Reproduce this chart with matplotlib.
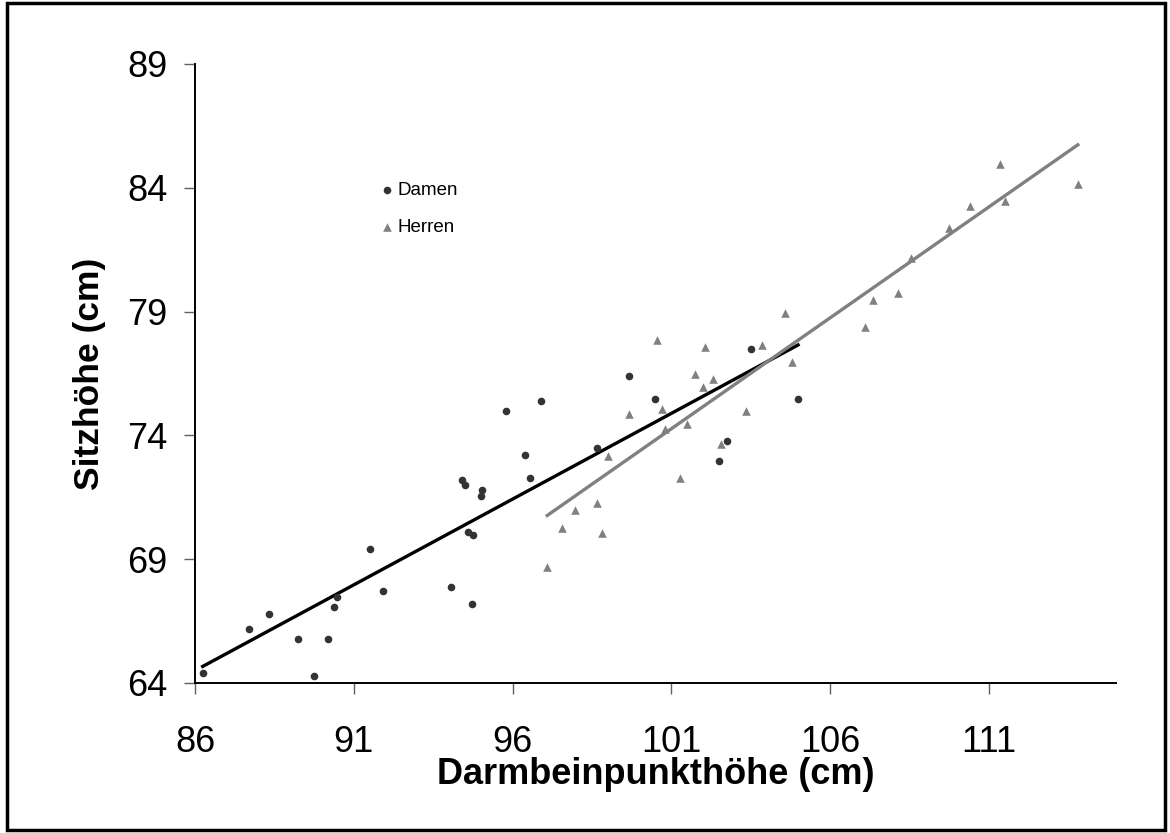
import numpy as np
import matplotlib.pyplot as plt
from matplotlib.patches import Rectangle

plt.rcParams['font.family'] = ['Liberation Sans', 'DejaVu Sans']

# Damen (women): Darmbeinpunkthöhe vs Sitzhöhe
damen_x = [86.24, 89.76, 87.70, 88.34, 89.25, 90.20, 90.39, 90.46, 91.50, 91.91,
           94.05, 94.73, 94.60, 94.74, 94.41, 94.50, 95.05, 95.01, 95.80, 96.90,
           96.40, 96.55, 98.66, 99.65, 100.50, 103.51, 104.99, 102.75, 102.51]
damen_y = [64.40, 64.30, 66.19, 66.79, 65.79, 65.79, 67.08, 67.49, 69.40, 67.70,
           67.89, 67.19, 70.08, 69.99, 72.19, 71.98, 71.78, 71.57, 74.99, 75.39,
           73.20, 72.28, 73.49, 76.39, 75.48, 77.48, 75.48, 73.79, 72.98]

# Herren (men)
herren_x = [97.09, 97.56, 97.95, 98.80, 98.66, 99.00, 99.67, 100.56, 100.71, 100.81,
            101.26, 101.50, 101.75, 102.06, 102.01, 102.31, 102.55, 103.35, 103.86, 104.57,
            104.81, 107.11, 107.36, 108.15, 108.56, 109.75, 110.40, 111.35, 111.50, 113.80]
herren_y = [68.67, 70.27, 70.99, 70.07, 71.28, 73.18, 74.86, 77.87, 75.07, 74.26,
            72.27, 74.47, 76.47, 77.56, 75.95, 76.26, 73.67, 74.97, 77.66, 78.96,
            76.96, 78.37, 79.45, 79.75, 81.15, 82.36, 83.25, 84.96, 83.47, 84.17]

xticks = [86, 91, 96, 101, 106, 111]
yticks = [64, 69, 74, 79, 84, 89]

fig = plt.figure(figsize=(11.7, 8.33), dpi=100)
ax = fig.add_axes([0.1667, 0.1801, 0.7871, 0.7431])

ax.scatter(damen_x, damen_y, s=30, marker='o', color='#333333', lw=0, label='Damen', zorder=3)
ax.scatter(herren_x, herren_y, s=38, marker='^', color='#808080', lw=0, label='Herren', zorder=3)

# linear trend lines over each data range
for xs, ys, c in [(damen_x, damen_y, 'black'), (herren_x, herren_y, '#808080')]:
    k, d = np.polyfit(xs, ys, 1)
    xr = np.array([min(xs), max(xs)])
    ax.plot(xr, k * xr + d, color=c, lw=2.4, zorder=2)

ax.set_xlim(86, 115)
ax.set_ylim(64, 89)
ax.set_xticks(xticks)
ax.set_yticks(yticks)
ax.tick_params(direction='out', length=8, width=1, labelsize=26)
ax.tick_params(axis='x', pad=22, color='#606060')
ax.tick_params(axis='y', pad=12, color='#606060')
for s in ['top', 'right']:
    ax.spines[s].set_visible(False)
for s in ['left', 'bottom']:
    ax.spines[s].set_linewidth(1.4)

ax.set_xlabel('Darmbeinpunkthöhe (cm)', fontsize=26, fontweight='bold', labelpad=-2)
ax.set_ylabel('Sitzhöhe (cm)', fontsize=25.5, fontweight='bold', labelpad=15)

ax.legend(loc='center left', bbox_to_anchor=(0.202, 0.766), frameon=False,
          fontsize=13.5, handlelength=0.6, handletextpad=0.3, borderpad=0,
          labelspacing=1.1, scatterpoints=1, borderaxespad=0)

fig.patches.append(Rectangle((0.006, 0.004), 0.99, 0.992, transform=fig.transFigure,
                             fill=False, edgecolor='black', lw=2.5))

fig.savefig('out.png', dpi=100)
